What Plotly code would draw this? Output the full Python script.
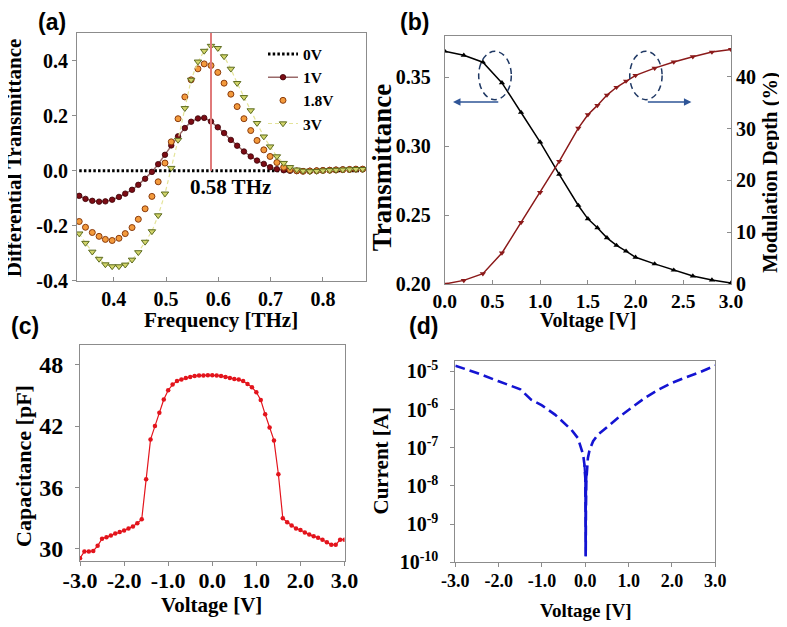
import plotly.graph_objects as go

# ---------------- (a) Differential transmittance ----------------
freq_thz = [0.334, 0.346, 0.359, 0.372, 0.384, 0.397, 0.410, 0.422, 0.435, 0.447,
            0.460, 0.473, 0.485, 0.498, 0.510, 0.523, 0.536, 0.548, 0.561, 0.573,
            0.586, 0.599, 0.611, 0.624, 0.636, 0.649, 0.662, 0.674, 0.687, 0.699,
            0.712, 0.725, 0.737, 0.750, 0.762, 0.775, 0.788, 0.800, 0.813, 0.825,
            0.838, 0.851, 0.863, 0.876]
dT_0V = [0.0, 0.0, 0.0, 0.0, 0.0, 0.0, 0.0, 0.0, 0.0, 0.0,
         0.0, 0.0, 0.0, 0.0, 0.0, 0.0, 0.0, 0.0, 0.0, 0.0,
         0.0, 0.0, 0.0, 0.0, 0.0, 0.0, 0.0, 0.0, 0.0, 0.0,
         0.0, 0.0, 0.0, 0.0, 0.0, 0.0, 0.0, 0.0, 0.0, 0.0,
         0.0, 0.0, 0.0, 0.0]
dT_1V = [-0.091, -0.102, -0.109, -0.112, -0.111, -0.105, -0.095, -0.083, -0.069, -0.051,
         -0.029, -0.004, 0.024, 0.058, 0.092, 0.125, 0.155, 0.178, 0.190, 0.192,
         0.179, 0.158, 0.137, 0.112, 0.091, 0.070, 0.052, 0.037, 0.025, 0.013,
         0.006, 0.002, 0.000, -0.001, -0.001, 0.000, 0.001, 0.002, 0.003, 0.004,
         0.005, 0.005, 0.006, 0.006]
dT_1p8V = [-0.184, -0.205, -0.224, -0.238, -0.249, -0.253, -0.245, -0.228, -0.206, -0.176,
           -0.138, -0.093, -0.040, 0.028, 0.105, 0.189, 0.268, 0.330, 0.370, 0.388,
           0.382, 0.357, 0.318, 0.278, 0.233, 0.189, 0.146, 0.110, 0.076, 0.052,
           0.030, 0.013, 0.004, 0.000, -0.002, -0.001, 0.000, 0.001, 0.002, 0.003,
           0.004, 0.005, 0.006, 0.006]
dT_3V = [-0.228, -0.262, -0.294, -0.320, -0.340, -0.347, -0.347, -0.341, -0.323, -0.296,
         -0.258, -0.220, -0.162, -0.083, 0.010, 0.112, 0.227, 0.330, 0.396, 0.435,
         0.453, 0.445, 0.415, 0.370, 0.318, 0.267, 0.219, 0.173, 0.124, 0.088,
         0.052, 0.028, 0.013, 0.004, 0.000, -0.002, -0.001, 0.001, 0.002, 0.003,
         0.004, 0.005, 0.006, 0.006]
peak_freq = 0.586
a_xticks = [0.4, 0.5, 0.6, 0.7, 0.8]
a_yticks = [-0.4, -0.2, 0.0, 0.2, 0.4]
a_yticklabels = ["-0.4", "-0.2", "0.0", "0.2", "0.4"]

# ---------------- (b) Transmittance / modulation depth ----------------
voltage_b = [0.0, 0.2, 0.4, 0.6, 0.8, 1.0, 1.2, 1.4, 1.5, 1.6, 1.7, 1.8, 1.9, 2.0,
             2.2, 2.4, 2.6, 2.8, 3.0]
transmittance = [0.369, 0.366, 0.361, 0.346, 0.3245, 0.303, 0.2796, 0.257, 0.2473,
                 0.2408, 0.2335, 0.228, 0.2238, 0.2194, 0.2146, 0.210, 0.2058,
                 0.2029, 0.2007]
mod_depth = [0.0, 0.7, 2.0, 6.0, 11.9, 17.7, 23.7, 30.1, 32.7, 34.5, 36.5, 38.0,
             39.2, 40.3, 41.7, 42.9, 43.9, 44.8, 45.3]
b_xticks = [0.0, 0.5, 1.0, 1.5, 2.0, 2.5, 3.0]
b_ylticks = [0.20, 0.25, 0.30, 0.35]
b_yrticks = [0, 10, 20, 30, 40]

# ---------------- (c) Capacitance ----------------
cv_voltage = [-3.0, -2.9, -2.8, -2.7, -2.6, -2.5, -2.4, -2.3, -2.2, -2.1,
              -2.0, -1.9, -1.8, -1.7, -1.6, -1.5, -1.4, -1.3, -1.2, -1.1,
              -1.0, -0.9, -0.8, -0.7, -0.6, -0.5, -0.4, -0.3, -0.2, -0.1,
              0.0,
              0.1, 0.2, 0.3, 0.4, 0.5, 0.6, 0.7, 0.8, 0.9, 1.0,
              1.1, 1.2, 1.3, 1.4, 1.5, 1.6, 1.7, 1.8, 1.9, 2.0,
              2.1, 2.2, 2.3, 2.4, 2.5, 2.6, 2.7, 2.8, 2.9, 3.0]
capacitance = [29.1, 29.75, 29.75, 29.8, 30.3, 31.0, 31.15, 31.3, 31.5, 31.65,
               31.8, 32.0, 32.2, 32.5, 32.9, 36.8, 40.7, 42.0, 43.3, 44.6,
               45.5, 46.05, 46.4, 46.55, 46.7, 46.8, 46.9, 46.95, 46.95, 46.97,
               46.97,
               46.95, 46.9, 46.8, 46.7, 46.6, 46.55, 46.4, 46.1, 45.8, 45.3,
               44.55, 43.15, 41.85, 40.6, 37.3, 33.0, 32.6, 32.3, 32.0, 31.85,
               31.6, 31.4, 31.25, 31.1, 30.9, 30.65, 30.4, 30.4, 30.9, 30.9]
v_ticks = [-3.0, -2.0, -1.0, 0.0, 1.0, 2.0, 3.0]
v_ticklabels = ["-3.0", "-2.0", "-1.0", "0.0", "1.0", "2.0", "3.0"]
c_yticks = [30, 36, 42, 48]

# ---------------- (d) Current ----------------
iv_voltage = [-3.0, -2.5, -2.0, -1.5, -1.25, -1.0, -0.7, -0.5, -0.32, -0.17,
              -0.11, -0.05, -0.02, 0.0, 0.005, 0.01, 0.015, 0.02, 0.03, 0.06,
              0.1, 0.18, 0.29, 0.48, 0.75, 1.06, 1.37, 1.68, 1.98, 2.29, 2.6, 3.0]
iv_current = [1.41e-5, 9.1e-6, 5.5e-6, 3.4e-6, 1.82e-6, 1.29e-6, 7.4e-7, 4.5e-7, 2.95e-7, 1.78e-7,
              1.10e-7, 6.6e-8, 3.6e-8, 1.6e-8, 2.5e-9, 1.45e-10, 3.0e-9, 1.2e-8, 2.0e-8, 5.4e-8,
              8.9e-8, 1.48e-7, 2.19e-7, 3.4e-7, 6.0e-7, 1.10e-6, 2.0e-6, 3.3e-6, 4.9e-6, 6.8e-6,
              9.1e-6, 1.41e-5]
d_yticks = [1e-10, 1e-9, 1e-8, 1e-7, 1e-6, 1e-5]
d_yticklabels = ["10<sup>-10</sup>", "10<sup>-9</sup>", "10<sup>-8</sup>",
                 "10<sup>-7</sup>", "10<sup>-6</sup>", "10<sup>-5</sup>"]

SERIF = "Liberation Serif"


def fnt(size, family=SERIF, color="black"):
    return dict(family=family, size=size, color=color, weight="bold")


fig = go.Figure()

# (a)
fig.add_trace(go.Scatter(x=freq_thz, y=dT_0V, mode="lines", name="0V",
                         line=dict(color="black", width=3, dash="2.5px,2.2px"),
                         xaxis="x", yaxis="y"))
fig.add_trace(go.Scatter(x=freq_thz, y=dT_1V, mode="lines+markers", name="1V",
                         line=dict(color="#9a6a6a", width=1.5),
                         marker=dict(symbol="circle", size=5.5, color="#7b0c14",
                                     line=dict(color="#3a0005", width=0.8)),
                         xaxis="x", yaxis="y"))
fig.add_trace(go.Scatter(x=freq_thz, y=dT_1p8V, mode="markers", name="1.8V",
                         marker=dict(symbol="circle", size=6, color="#f39a3c",
                                     line=dict(color="#8a3b0c", width=1)),
                         xaxis="x", yaxis="y"))
fig.add_trace(go.Scatter(x=freq_thz, y=dT_3V, mode="lines+markers", name="3V",
                         line=dict(color="#e4e49a", width=1.2, dash="4px,3px"),
                         marker=dict(symbol="triangle-down", size=6.5, color="#d2d46a",
                                     line=dict(color="#5c6b1f", width=1)),
                         xaxis="x", yaxis="y"))

# (b)
fig.add_trace(go.Scatter(x=voltage_b, y=transmittance, mode="lines+markers",
                         line=dict(color="black", width=1.5),
                         marker=dict(symbol="triangle-up", size=5.5, color="black"),
                         xaxis="x2", yaxis="y2", showlegend=False))
fig.add_trace(go.Scatter(x=voltage_b, y=mod_depth, mode="lines+markers",
                         line=dict(color="#8b1a1a", width=1.5),
                         marker=dict(symbol="triangle-down", size=5.5, color="#8b1a1a"),
                         xaxis="x2", yaxis="y3", showlegend=False))

# (c)
fig.add_trace(go.Scatter(x=cv_voltage, y=capacitance, mode="lines+markers",
                         line=dict(color="#e3141c", width=1.2),
                         marker=dict(symbol="circle", size=4.5, color="#e3141c"),
                         xaxis="x3", yaxis="y4", showlegend=False))

# (d)
fig.add_trace(go.Scatter(x=iv_voltage, y=iv_current, mode="lines",
                         line=dict(color="#1414d2", width=2.6, dash="10px,5px"),
                         xaxis="x4", yaxis="y5", showlegend=False))
near_v = [v for v in iv_voltage if -0.02 <= v <= 0.03]
near_i = [i for v, i in zip(iv_voltage, iv_current) if -0.02 <= v <= 0.03]
fig.add_trace(go.Scatter(x=near_v, y=near_i, mode="lines",
                         line=dict(color="#1414d2", width=2.2),
                         xaxis="x4", yaxis="y5", showlegend=False))

AX = dict(showline=True, linecolor="#8c8c8c", linewidth=1, mirror=True,
          showgrid=False, zeroline=False, ticks="outside", ticklen=4,
          tickcolor="#8c8c8c", tickfont=fnt(19), automargin=False)

fig.update_layout(
    width=787, height=627, margin=dict(l=0, r=0, t=0, b=0),
    paper_bgcolor="white", plot_bgcolor="white",
    xaxis=dict(AX, domain=[0.0877, 0.4549], range=[0.3298, 0.8824], tickvals=a_xticks,
               tickformat=".1f", anchor="y", ticks="inside", tickfont=fnt(20)),
    yaxis=dict(AX, domain=[0.5646, 0.9601], range=[-0.4, 0.5], tickvals=a_yticks,
               ticktext=a_yticklabels, anchor="x", tickfont=fnt(20)),
    xaxis2=dict(AX, domain=[0.5549, 0.9187], range=[0, 3], tickvals=b_xticks,
                tickformat=".1f", anchor="y2", ticks="inside", tickfont=fnt(19.5)),
    yaxis2=dict(AX, domain=[0.5598, 0.9553], range=[0.20, 0.38], tickvals=b_ylticks,
                tickformat=".2f", anchor="x2", mirror=False, ticks="inside",
                ticklabelstandoff=9, tickfont=fnt(20)),
    yaxis3=dict(AX, range=[0, 47.9], tickvals=b_yrticks, overlaying="y2", side="right",
                anchor="x2", mirror=False, ticks="inside", tickfont=fnt(20)),
    xaxis3=dict(AX, domain=[0.0915, 0.4276], range=[-3, 3], tickvals=v_ticks,
                ticktext=v_ticklabels, anchor="y4", tickfont=fnt(22),
                ticklabelstandoff=-4),
    yaxis4=dict(AX, domain=[0.1185, 0.4630], range=[28.85, 49.95], tickvals=c_yticks,
                anchor="x3", ticklabelstandoff=7, tickfont=fnt(24)),
    xaxis4=dict(AX, domain=[0.5684, 0.8987], range=[-3, 3], tickvals=v_ticks,
                ticktext=v_ticklabels, anchor="y5", tickfont=fnt(18),
                ticklabelstandoff=-2),
    yaxis5=dict(AX, type="log", domain=[0.1159, 0.4375], range=[-10, -4.72],
                tickvals=d_yticks, ticktext=d_yticklabels, anchor="x4",
                ticklabelstandoff=8, tickfont=fnt(20)),
    legend=dict(x=0.324, y=0.953, xanchor="left", yanchor="top",
                bgcolor="rgba(0,0,0,0)", font=fnt(15.5), itemwidth=30,
                tracegroupgap=0),
    showlegend=True,
)

shapes = [
    dict(type="line", xref="x", yref="y", x0=peak_freq, x1=peak_freq, y0=0, y1=0.5,
         line=dict(color="#e07a7a", width=2)),
    dict(type="circle", xref="x2", yref="y2", x0=0.356, x1=0.698, y0=0.3338, y1=0.3689,
         line=dict(color="#1f3864", width=1.5, dash="6px,4px")),
    dict(type="circle", xref="x2", yref="y2", x0=1.939, x1=2.278, y0=0.3338, y1=0.3689,
         line=dict(color="#1f3864", width=1.5, dash="6px,4px")),
]
fig.update_layout(shapes=shapes)

ann = []
# panel labels
for txt, px, py, xa in [("(a)", 0.0560, 0.978, "center"), ("(b)", 0.5170, 0.978, "center"),
                        ("(c)", 0.0010, 0.4925, "left"), ("(d)", 0.5275, 0.4925, "center")]:
    ann.append(dict(text=txt, x=px, y=py, xref="paper", yref="paper", showarrow=False,
                    xanchor=xa, yanchor="middle",
                    font=fnt(23, family="Liberation Sans")))
# axis titles (x, y in paper units; rotated ones shifted for text box offset)
for txt, px, py, ang, size in [
    ("Differential Transmittance", 0.0080, 0.761, -90, 21),
    ("Frequency [THz]", 0.2706, 0.503, 0, 21),
    ("Transmittance", 0.4745, 0.745, -90, 27),
    ("Modulation Depth (%)", 0.9692, 0.737, -90, 20.5),
    ("Voltage [V]", 0.737, 0.501, 0, 20),
    ("Capacitance [pF]", 0.0190, 0.2695, -90, 22),
    ("Voltage [V]", 0.258, 0.0480, 0, 21),
    ("Current [A]", 0.4745, 0.279, -90, 21),
    ("Voltage [V]", 0.7345, 0.0390, 0, 19),
]:
    ann.append(dict(text=txt, x=px, y=py, xref="paper", yref="paper", showarrow=False,
                    xanchor="center", yanchor="middle", textangle=ang, font=fnt(size)))
ann.append(dict(text="0.58 THz", x=0.623, y=-0.06, xref="x", yref="y", showarrow=False,
                font=fnt(21)))
# arrows in (b)
ann.append(dict(text="", x=0.087, y=0.3321, ax=0.577, ay=0.3321, xref="x2", yref="y2",
                axref="x2", ayref="y2", showarrow=True, arrowhead=2, arrowsize=1,
                arrowwidth=1.5, arrowcolor="#2f5597"))
ann.append(dict(text="", x=2.585, y=0.3321, ax=2.113, ay=0.3321, xref="x2", yref="y2",
                axref="x2", ayref="y2", showarrow=True, arrowhead=2, arrowsize=1,
                arrowwidth=1.5, arrowcolor="#2f5597"))
fig.update_layout(annotations=ann)

fig.write_html("out.html")
